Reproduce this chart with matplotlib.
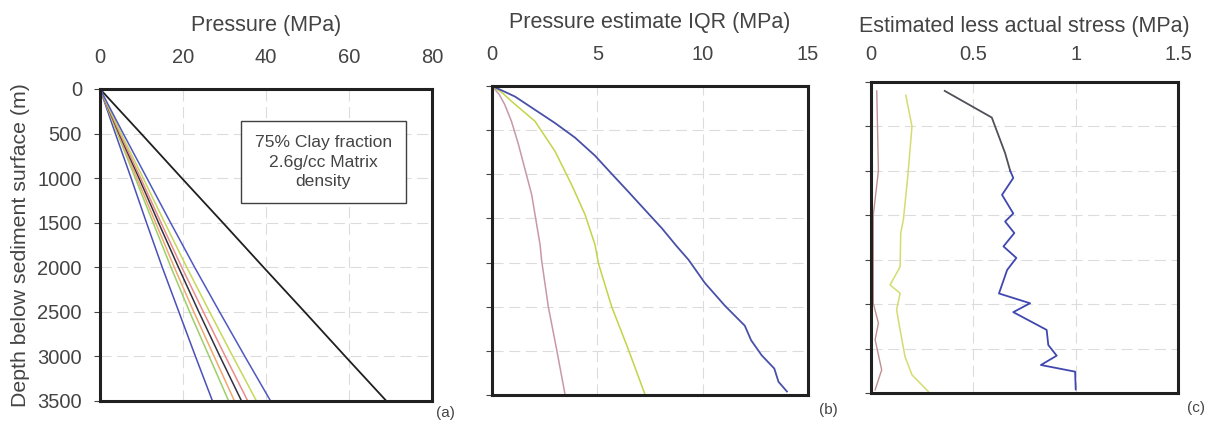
import numpy as np
import matplotlib
matplotlib.use('Agg')
from matplotlib import pyplot as plt

plt.rcParams['font.family'] = ['Liberation Sans', 'DejaVu Sans']

# (a) pressure profiles
depth_a = [0, 500, 1000, 1500, 2000, 2500, 3000, 3500]
blue_lo = [0, 3.7, 7.5, 11.2, 15.0, 19.0, 23.0, 27.1]
green_a = [0, 4.2, 8.5, 12.8, 17.1, 21.6, 26.3, 31.0]
orange_a = [0, 4.4, 8.9, 13.4, 17.9, 22.6, 27.5, 32.4]
black_a = [0, 4.6, 9.4, 14.1, 18.9, 23.8, 28.9, 34.1]
pink_a = [0, 4.8, 9.8, 14.7, 19.7, 24.9, 30.2, 35.6]
yellow_a = [0, 5.1, 10.4, 15.6, 20.9, 26.4, 32.0, 37.7]
blue_hi = [0, 5.6, 11.3, 17.0, 22.8, 28.8, 34.9, 41.1]
overburden = [0, 9.9, 19.7, 29.6, 39.4, 49.3, 59.1, 69.0]

# (b) pressure estimate IQR
depth_b_blue = [0, 60, 120, 270, 420, 585, 790, 995, 1200, 1406, 1611, 1816, 1969, 2230, 2490, 2715, 2880, 3050, 3200, 3350, 3460]
iqr_blue = [0, 0.55, 1.09, 2.04, 2.99, 3.94, 4.89, 5.68, 6.48, 7.27, 8.06, 8.77, 9.33, 10.1, 11.06, 12.0, 12.3, 12.8, 13.4, 13.6, 14.0]
depth_b_yel = [0, 80, 175, 400, 740, 1120, 1460, 1800, 2010, 2500, 2990, 3500]
iqr_yel = [0, 0.5, 0.93, 2.04, 2.99, 3.78, 4.42, 4.89, 5.05, 5.68, 6.48, 7.27]
depth_b_pink = [0, 100, 210, 400, 660, 1230, 1800, 1970, 2500, 2990, 3500]
iqr_pink = [0, 0.35, 0.6, 0.92, 1.25, 1.88, 2.28, 2.35, 2.67, 3.07, 3.47]

# (c) estimated less actual stress
depth_c_top = [100, 400, 800, 1000]
diff_top = [0.36, 0.59, 0.655, 0.68]
depth_c_blue = [1000, 1080, 1270, 1480, 1570, 1700, 1850, 1980, 2115, 2380, 2490, 2590, 2790, 2960, 3080, 3185, 3260, 3460]
diff_blue = [0.68, 0.695, 0.64, 0.695, 0.655, 0.70, 0.647, 0.71, 0.665, 0.625, 0.777, 0.695, 0.858, 0.866, 0.907, 0.83, 0.997, 1.0]
depth_c_yel = [150, 500, 1050, 1550, 1700, 2080, 2284, 2377, 2565, 2790, 3090, 3296, 3484]
diff_yel = [0.17, 0.2, 0.18, 0.158, 0.145, 0.142, 0.093, 0.142, 0.125, 0.142, 0.166, 0.2, 0.28]
depth_c_red = [100, 1000, 1500, 2040, 2490, 2715, 2900, 3240, 3465]
diff_red = [0.028, 0.036, 0.011, 0.011, 0.011, 0.036, 0.02, 0.052, 0.02]

txt = '#444444'
grid_c = '#dcdcdc'


def style(ax, xmax, xticks, xticklabels, title, yticklabels):
    ax.set_xlim(0, xmax)
    ax.set_ylim(3500, 0)
    ax.xaxis.tick_top()
    ax.xaxis.set_label_position('top')
    ax.set_xticks(xticks)
    ax.set_xticklabels(xticklabels)
    ax.set_yticks(np.arange(0, 3501, 500))
    if yticklabels:
        ax.set_yticklabels([str(v) for v in range(0, 3501, 500)])
    else:
        ax.set_yticklabels([])
    ax.tick_params(axis='both', labelsize=14.5, colors=txt, length=4, width=0.8,
                   direction='out')
    ax.tick_params(axis='x', length=0, pad=16)
    ax.tick_params(axis='y', pad=9)
    ax.set_xlabel(title, fontsize=15.5, color=txt, labelpad=12)
    ax.grid(True, color=grid_c, linestyle=(0, (10, 5)), linewidth=0.8)
    for s in ax.spines.values():
        s.set_linewidth(2.2)
        s.set_color('#202020')


fig = plt.figure(figsize=(12.15, 4.28), dpi=100)

ax1 = fig.add_axes([0.0823, 0.0631, 0.2733, 0.729])
ax2 = fig.add_axes([0.405, 0.0771, 0.260, 0.722])
ax3 = fig.add_axes([0.7169, 0.0818, 0.2527, 0.7266])

lw = 1.1
ax1.plot(overburden, depth_a, color='#202020', lw=1.3)
ax1.plot(blue_lo, depth_a, color='#4a50b8', lw=lw)
ax1.plot(green_a, depth_a, color='#9ccf6a', lw=lw)
ax1.plot(orange_a, depth_a, color='#f0a870', lw=lw)
ax1.plot(black_a, depth_a, color='#303040', lw=lw)
ax1.plot(pink_a, depth_a, color='#e88c8c', lw=lw)
ax1.plot(yellow_a, depth_a, color='#c6d85a', lw=lw)
ax1.plot(blue_hi, depth_a, color='#5058c0', lw=lw)
style(ax1, 80, [0, 20, 40, 60, 80], ['0', '20', '40', '60', '80'], 'Pressure (MPa)', True)
ax1.set_ylabel('Depth below sediment surface (m)', fontsize=15.3, color=txt, labelpad=5)
ax1.text(53.8, 820, '75% Clay fraction\n2.6g/cc Matrix\ndensity', ha='center', va='center',
         fontsize=12.6, color=txt, linespacing=1.4,
         bbox=dict(boxstyle='square,pad=0.8', fc='white', ec='#404040', lw=1.0))

ax2.plot(iqr_pink, depth_b_pink, color='#c898a8', lw=lw)
ax2.plot(iqr_yel, depth_b_yel, color='#c4d448', lw=lw)
ax2.plot(iqr_blue, depth_b_blue, color='#4850a8', lw=1.3)
style(ax2, 15, [0, 5, 10, 15], ['0', '5', '10', '15'], 'Pressure estimate IQR (MPa)', False)

ax3.plot(diff_red, depth_c_red, color='#c09090', lw=1.0)
ax3.plot(diff_yel, depth_c_yel, color='#d4dc70', lw=1.1)
ax3.plot(diff_top, depth_c_top, color='#505058', lw=1.3)
ax3.plot(diff_blue, depth_c_blue, color='#4048b0', lw=1.3)
style(ax3, 1.5, [0, 0.5, 1, 1.5], ['0', '0.5', '1', '1.5'], 'Estimated less actual stress (MPa)', False)
ax3.tick_params(axis='x', pad=13)
ax3.xaxis.labelpad = 9

fig.text(445 / 1215, 1 - 413 / 428, '(a)', fontsize=11, color=txt, ha='center', va='center')
fig.text(828 / 1215, 1 - 410 / 428, '(b)', fontsize=11, color=txt, ha='center', va='center')
fig.text(1196 / 1215, 1 - 408 / 428, '(c)', fontsize=11, color=txt, ha='center', va='center')

fig.savefig('out.png', dpi=100)
